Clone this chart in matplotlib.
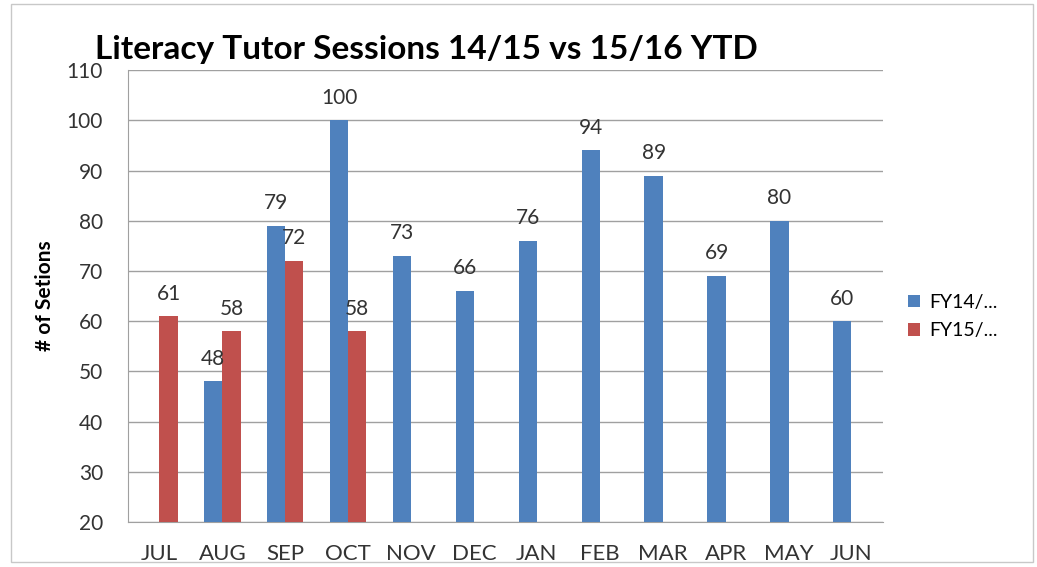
import matplotlib
matplotlib.use("Agg")
import matplotlib.pyplot as plt
import numpy as np
from matplotlib.patches import Rectangle

months = ["JUL", "AUG", "SEP", "OCT", "NOV", "DEC", "JAN", "FEB", "MAR", "APR", "MAY", "JUN"]
fy1415 = [np.nan, 48, 79, 100, 73, 66, 76, 94, 89, 69, 80, 60]
fy1516 = [61, 58, 72, 58, np.nan, np.nan, np.nan, np.nan, np.nan, np.nan, np.nan, np.nan]
series_names = ["FY14/...", "FY15/..."]

plt.rcParams["font.family"] = ["Lato", "DejaVu Sans"]

fig = plt.figure(figsize=(10.37, 5.67), dpi=100)
ax = fig.add_axes([0.1234, 0.0794, 0.728, 0.797])

x = np.arange(len(months))
w = 0.29
blue = "#4F81BD"
red = "#C0504D"

ax.bar(x - w / 2, fy1415, w, color=blue, label=series_names[0], zorder=3)
ax.bar(x + w / 2, fy1516, w, color=red, label=series_names[1], zorder=3)

# value labels above bars
for xi, v in zip(x, fy1415):
    if not np.isnan(v):
        ax.text(xi - w / 2, v + 2.5, f"{v:.0f}", ha="center", va="bottom", fontsize=15, color="#333333")
for xi, v in zip(x, fy1516):
    if not np.isnan(v):
        ax.text(xi + w / 2, v + 2.5, f"{v:.0f}", ha="center", va="bottom", fontsize=15, color="#333333")

ax.set_xlim(-0.5, len(months) - 0.5)
ax.set_ylim(20, 110)
ax.set_yticks(range(20, 111, 10))
ax.set_xticks(x)
ax.set_xticklabels(months)
ax.tick_params(axis="y", labelsize=15, colors="#333333", length=0, pad=18)
ax.tick_params(axis="x", labelsize=16, colors="#333333", length=0, pad=16)
ax.grid(axis="y", color="#a0a0a0", linewidth=1, zorder=0)
for s in ["top", "right"]:
    ax.spines[s].set_visible(False)
for s in ["left", "bottom"]:
    ax.spines[s].set_color("#a0a0a0")
ax.set_ylabel("# of Setions", fontsize=15, fontweight="bold", labelpad=8)

fig.text(0.092, 0.912, "Literacy Tutor Sessions 14/15 vs 15/16 YTD", fontsize=24,
         fontweight="bold", ha="left", va="center")

ax.legend(loc="center left", bbox_to_anchor=(1.01, 0.455), frameon=False, fontsize=14,
          handlelength=0.6, handleheight=0.6, handletextpad=0.5, labelspacing=0.6)

fig.patches.append(Rectangle((0.011, 0.008), 0.985, 0.985, transform=fig.transFigure,
                             fill=False, edgecolor="#c8c8c8", linewidth=1))

fig.savefig("out.png", dpi=100)
